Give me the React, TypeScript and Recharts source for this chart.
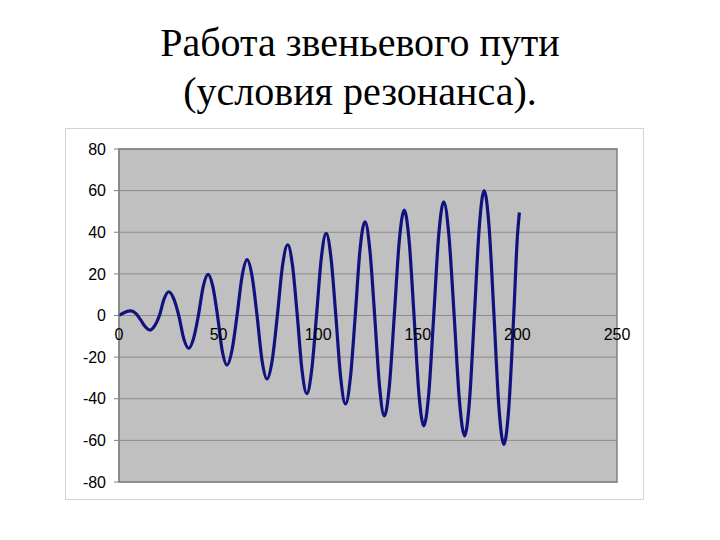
import { LineChart, Line, XAxis, YAxis, CartesianGrid, ReferenceArea, ReferenceDot } from 'recharts';

// readings taken off the reference curve (x, value)
const xValues = [
  0, 3, 6, 8.4, 10.8, 13.2, 15.6, 17.95, 20.3, 22.65, 25, 27.5, 30, 32.5, 35,
  37.4, 39.85, 42.3, 44.7, 47.1, 49.45, 51.8, 54.2, 56.7, 59.25, 61.8, 64.3,
  66.8, 69.3, 71.8, 74.3, 76.9, 79.5, 82.1, 84.7, 87.1, 89.5, 91.9, 94.3,
  96.7, 99.15, 101.6, 104, 106.4, 108.85, 111.3, 113.7, 116.15, 118.6, 121,
  123.5, 125.9, 128.35, 130.8, 133.2, 135.7, 138.2, 140.7, 143.2, 145.65,
  148.1, 150.55, 153, 155.5, 158, 160.5, 163, 165.6, 168.25, 170.9, 173.5,
  175.95, 178.4, 180.85, 183.3, 185.8, 188.25, 190.7, 193.2, 195.7, 198.15,
  200, 201,
];

const yValues = [
  0, 1.6, 2.2, 1.0, -2.0, -5.4, -7, -4.9, 0, 8, 11.4, 8, 0, -11.1, -15.8,
  -11.1, 0, 14, 19.8, 14, 0, -16.8, -23.8, -16.8, 0, 18.9, 26.8,
  18.9, 0, -21.6, -30.5, -21.6, 0, 24, 34, 24, 0, -26.5, -37.5,
  -26.5, 0, 27.9, 39.5, 27.9, 0, -30, -42.5, -30, 0, 31.8,
  45, 31.8, 0, -34.1, -48.3, -34.1, 0, 35.8, 50.6, 35.8,
  0, -37.5, -53, -37.5, 0, 38.6, 54.6, 38.6, 0, -40.9, -57.8,
  -40.9, 0, 42.4, 60, 42.4, 0, -43.8, -62, -44, 0,
  38, 49.5,
];

const xTicks = [0, 50, 100, 150, 200, 250];
const yTicks = [-80, -60, -40, -20, 0, 20, 40, 60, 80];

const titleLines = ['Работа звеньевого пути', '(условия резонанса).'];

const data = xValues.map((x, i) => ({ x, y: yValues[i] }));

const labelFont = '"Liberation Sans", Arial, sans-serif';

export default function App() {
  return (
    <div style={{ position: 'relative', width: 720, height: 540, margin: -8, background: '#fff' }}>
      {titleLines.map((t, i) => (
        <div
          key={t}
          style={{
            position: 'absolute',
            left: 0,
            top: 18 + i * 49,
            width: 720,
            textAlign: 'center',
            fontFamily: '"Liberation Serif", "Times New Roman", serif',
            fontSize: 40,
            lineHeight: '50px',
            color: '#000',
          }}
        >
          {t}
        </div>
      ))}
      <div
        style={{
          position: 'absolute',
          left: 65,
          top: 128,
          width: 577,
          height: 370,
          border: '1px solid #d4d4d4',
        }}
      >
        <LineChart width={577} height={370} data={data} margin={{ top: 20, right: 26, bottom: 17, left: 12 }}>
          <CartesianGrid vertical={false} fill="#c0c0c0" stroke="#8c8c8c" fillOpacity={1} />
          <XAxis type="number" dataKey="x" domain={[0, 250]} ticks={xTicks} hide />
          <YAxis
            type="number"
            domain={[-80, 80]}
            ticks={yTicks}
            width={41}
            axisLine={{ stroke: '#808080' }}
            tickLine={{ stroke: '#808080' }}
            tickSize={5}
            tickMargin={8}
            tick={{ fill: '#000', fontSize: 16, fontFamily: labelFont }}
          />
          <ReferenceArea x1={0} x2={250} y1={-80} y2={80} fill="none" stroke="#808080" strokeWidth={1.5} />
          {xTicks.map((t) => (
            <ReferenceDot
              key={t}
              x={t}
              y={0}
              r={0}
              fill="none"
              stroke="none"
              ifOverflow="visible"
              label={{ value: String(t), position: 'bottom', offset: 13, fill: '#000', fontSize: 16, fontFamily: labelFont }}
            />
          ))}
          <Line
            type="monotone"
            dataKey="y"
            stroke="#12127e"
            strokeWidth={3.2}
            dot={false}
            isAnimationActive={false}
          />
        </LineChart>
      </div>
    </div>
  );
}
